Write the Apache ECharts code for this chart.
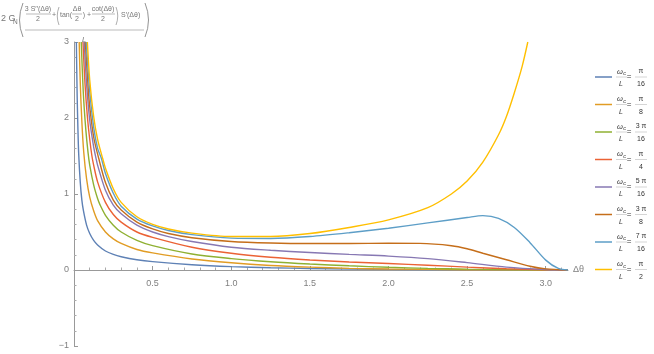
<!DOCTYPE html>
<html>
<head>
<meta charset="utf-8">
<script src="https://cdn.jsdelivr.net/npm/echarts@6/dist/echarts.min.js"></script>
<style>html,body{margin:0;padding:0;background:#fff;}#c{width:654px;height:354px;}</style>
</head>
<body>
<div id="c"></div>
<script>
// ---- data ----
const curvePi16 = [[0.015,3],[0.02,2.3],[0.025,1.85],[0.03,1.52],[0.04,1.15],[0.05,0.92],[0.06,0.78],[0.08,0.59],[0.1,0.48],[0.125,0.39],[0.15,0.33],[0.2,0.25],[0.25,0.205],[0.3,0.175],[0.4,0.135],[0.5,0.11],[0.75,0.07],[1.0,0.045],[1.25,0.03],[1.5,0.02],[2.0,0.008],[2.5,0.003],[3.14159,0]];
const curvePi8 = [[0.033,3],[0.04,2.45],[0.05,1.95],[0.062,1.55],[0.08,1.2],[0.1,0.96],[0.125,0.78],[0.15,0.65],[0.2,0.5],[0.25,0.41],[0.3,0.35],[0.4,0.27],[0.5,0.225],[0.75,0.145],[1.0,0.095],[1.25,0.06],[1.5,0.038],[1.75,0.022],[2.0,0.013],[2.5,0.004],[3.14159,0]];
const curve3Pi16 = [[0.046,3],[0.06,2.3],[0.075,1.85],[0.089,1.55],[0.1,1.38],[0.125,1.12],[0.15,0.94],[0.165,0.86],[0.2,0.72],[0.25,0.59],[0.3,0.5],[0.4,0.39],[0.5,0.32],[0.75,0.21],[1.0,0.15],[1.25,0.108],[1.5,0.078],[1.75,0.055],[2.0,0.036],[2.25,0.022],[2.5,0.012],[2.75,0.005],[3.14159,0]];
const curvePi4 = [[0.057,3],[0.07,2.45],[0.085,2.02],[0.1,1.72],[0.114,1.5],[0.125,1.38],[0.15,1.16],[0.2,0.89],[0.25,0.73],[0.3,0.63],[0.4,0.5],[0.5,0.43],[0.75,0.3],[1.0,0.22],[1.25,0.168],[1.5,0.132],[1.75,0.105],[2.0,0.085],[2.25,0.063],[2.5,0.038],[2.75,0.016],[3.0,0.004],[3.14159,0]];
const curve5Pi16 = [[0.065,3],[0.08,2.45],[0.1,1.97],[0.125,1.62],[0.14,1.47],[0.15,1.38],[0.2,1.05],[0.25,0.855],[0.3,0.74],[0.4,0.59],[0.5,0.5],[0.6,0.44],[0.75,0.375],[1.0,0.3],[1.25,0.26],[1.5,0.23],[1.75,0.205],[2.0,0.183],[2.25,0.15],[2.5,0.097],[2.75,0.038],[3.0,0.007],[3.14159,0]];
const curve3Pi8 = [[0.072,3],[0.09,2.4],[0.1,2.15],[0.125,1.75],[0.157,1.47],[0.2,1.15],[0.25,0.92],[0.3,0.79],[0.4,0.63],[0.5,0.54],[0.6,0.48],[0.75,0.425],[1.0,0.375],[1.25,0.355],[1.5,0.348],[1.75,0.348],[2.0,0.352],[2.2,0.35],[2.4,0.32],[2.5,0.28],[2.6,0.22],[2.75,0.135],[2.9,0.05],[3.0,0.015],[3.14159,0]];
const curve7Pi16 = [[0.078,3],[0.1,2.35],[0.125,1.88],[0.15,1.6],[0.174,1.47],[0.2,1.27],[0.25,1.01],[0.3,0.84],[0.4,0.67],[0.5,0.58],[0.6,0.52],[0.75,0.465],[1.0,0.42],[1.25,0.415],[1.5,0.44],[1.75,0.49],[2.0,0.55],[2.25,0.62],[2.5,0.69],[2.6,0.715],[2.7,0.68],[2.8,0.56],[2.9,0.36],[3.0,0.13],[3.08,0.02],[3.14159,0]];
const curvePi2 = [[0.085,3],[0.1,2.5],[0.125,2.02],[0.15,1.72],[0.182,1.47],[0.2,1.34],[0.25,1.07],[0.3,0.89],[0.4,0.7],[0.5,0.6],[0.6,0.54],[0.75,0.485],[1.0,0.44],[1.25,0.44],[1.5,0.48],[1.75,0.56],[2.0,0.66],[2.25,0.82],[2.4,1.0],[2.5,1.17],[2.6,1.42],[2.7,1.78],[2.75,2.02],[2.8,2.33],[2.85,2.68],[2.886,3]];

const legendNum = ['π','π','3 π','π','5 π','3 π','7 π','π'];
const legendDen = ['16','8','16','4','16','8','16','2'];
const xTicks = [0.5,1.0,1.5,2.0,2.5,3.0];
const yTicks = [-1,0,1,2,3];

const colors = ['#5E81B5','#E19C24','#8FB032','#EB6235','#8778B3','#C56E1A','#5D9EC7','#FFBF00'];
const curves = [curvePi16,curvePi8,curve3Pi16,curvePi4,curve5Pi16,curve3Pi8,curve7Pi16,curvePi2];

const FONT = 'Liberation Sans';
const gray = '#7f7f7f';

const graphics = [];
function txt(x,y,t,size,color,align,italic){
  graphics.push({type:'text',x:x,y:y,silent:true,style:{text:t,fill:color,fontSize:size,fontFamily:FONT,fontStyle:italic?'italic':'normal',textAlign:align||'center',textVerticalAlign:'middle'}});
}
function hline(x1,x2,y,color,w){
  graphics.push({type:'line',silent:true,shape:{x1:x1,y1:y,x2:x2,y2:y},style:{stroke:color,lineWidth:w||0.6}});
}
for(let i=0;i<8;i++){
  const y = 77 + 27.5*i;
  hline(595,612,y,colors[i],1.5);
  txt(620,y-5.5,'ω',7.5,'#333','center',true);
  txt(624.5,y-3.5,'c',5.5,'#333','center',true);
  hline(616,627,y,'#aaa',0.5);
  txt(621,y+7.5,'L',7,'#333','center',true);
  txt(629,y,'=',8,'#333','center');
  txt(641,y-5.5,legendNum[i],7,'#333','center');
  hline(635,647,y,'#aaa',0.5);
  txt(641,y+7.5,legendDen[i],7,'#333','center');
}
const fc = '#777';
txt(1,19,'2 G',9,fc,'left');
txt(13,22,'N',6.5,fc,'left');
graphics.push({type:'bezierCurve',silent:true,shape:{x1:23,y1:3,x2:23,y2:37,cpx1:16,cpy1:20},style:{stroke:fc,lineWidth:0.8,fill:null}});
graphics.push({type:'bezierCurve',silent:true,shape:{x1:145,y1:3,x2:145,y2:37,cpx1:152,cpy1:20},style:{stroke:fc,lineWidth:0.8,fill:null}});
txt(38,9.5,'3 S′′(Δθ)',7,fc,'center');
hline(26,51,14,fc,0.5);
txt(38,19.5,'2',7,fc,'center');
txt(54,15,'+',7,fc,'center');
graphics.push({type:'bezierCurve',silent:true,shape:{x1:59,y1:7,x2:59,y2:25,cpx1:55.5,cpy1:16},style:{stroke:fc,lineWidth:0.6,fill:null}});
txt(60,15,'tan(',7,fc,'left');
txt(77,9.5,'Δθ',7,fc,'center');
hline(72,82,14,fc,0.5);
txt(77,19.5,'2',7,fc,'center');
txt(84,15,')',7,fc,'center');
txt(89,15,'+',7,fc,'center');
txt(103,9.5,'cot(Δθ)',7,fc,'center');
hline(92,115,14,fc,0.5);
txt(103,19.5,'2',7,fc,'center');
graphics.push({type:'bezierCurve',silent:true,shape:{x1:116,y1:7,x2:116,y2:25,cpx1:119.5,cpy1:16},style:{stroke:fc,lineWidth:0.6,fill:null}});
txt(121,15,'S′(Δθ)',7,fc,'left');
hline(25,144,30,fc,0.5);
txt(84,40,'L',7.5,fc,'center',true);

const series = curves.map((d,i)=>({
  type:'line', data:d, showSymbol:false, smooth:0.3, clip:true,
  lineStyle:{color:colors[i],width:1.4}, itemStyle:{color:colors[i]}, z:2+i
}));

const chart = echarts.init(document.getElementById('c'),null,{renderer:'canvas'});
chart.setOption({
  animation:false,
  backgroundColor:'#fff',
  grid:{left:74,top:42,width:494,height:304,containLabel:false},
  xAxis:{
    type:'value', min:0, max:Math.PI, interval:0.5, position:'bottom', offset:-76,
    axisLine:{onZero:false,lineStyle:{color:'#999',width:1}},
    axisTick:{show:true,inside:true,length:4,customValues:xTicks,lineStyle:{color:'#999'}},
    minorTick:{show:true,splitNumber:5,length:2.5,lineStyle:{color:'#aaa'}},
    axisLabel:{customValues:xTicks,formatter:v=>Number(v).toFixed(1),fontSize:9,color:gray,fontFamily:FONT,margin:9},
    splitLine:{show:false}, minorSplitLine:{show:false},
    name:'Δθ', nameLocation:'end', nameGap:5, nameTextStyle:{color:gray,fontSize:9,fontFamily:FONT}
  },
  yAxis:{
    type:'value', min:-1, max:3, interval:1,
    axisLine:{show:true,onZero:false,lineStyle:{color:'#999',width:1}},
    axisTick:{show:true,inside:true,length:4,lineStyle:{color:'#999'}},
    minorTick:{show:true,splitNumber:5,length:2.5,lineStyle:{color:'#aaa'}},
    axisLabel:{customValues:yTicks,formatter:v=>v<0?'−'+(-v):String(v),fontSize:9,color:gray,fontFamily:FONT,margin:5},
    splitLine:{show:false}
  },
  series:series,
  graphic:graphics
});
</script>
</body>
</html>
